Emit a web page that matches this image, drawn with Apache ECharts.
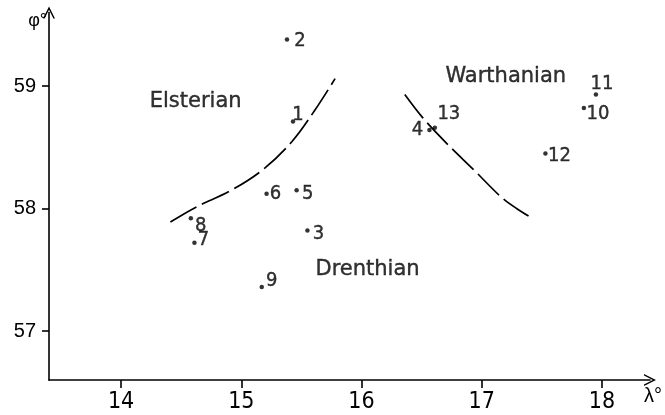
<!DOCTYPE html>
<html>
<head>
<meta charset="utf-8">
<script src="https://cdn.jsdelivr.net/npm/echarts@6/dist/echarts.min.js"></script>
<style>
  html, body { margin: 0; padding: 0; background: #fff; }
  #chart { width: 665px; height: 415px; }
</style>
</head>
<body>
<div id="chart"></div>
<script>
// Sites (longitude λ°, latitude φ°)
const siteIds = ['1', '2', '3', '4', '5', '6', '7', '8', '9', '10', '11', '12', '13'];
const siteLon = [15.43, 15.38, 15.55, 16.565, 15.46, 15.21, 14.61, 14.58, 15.17, 17.85, 17.95, 17.53, 16.61];
const siteLat = [58.71, 59.38, 57.82, 58.64, 58.15, 58.12, 57.72, 57.92, 57.36, 58.82, 58.93, 58.45, 58.66];

// Dashed boundary lines between the glacial zones
const westBoundaryLon = [14.41, 14.63, 14.90, 15.17, 15.42, 15.61, 15.78];
const westBoundaryLat = [57.89, 58.015, 58.14, 58.31, 58.545, 58.80, 59.06];
const eastBoundaryLon = [16.36, 16.51, 16.71, 16.94, 17.155, 17.29, 17.42];
const eastBoundaryLat = [58.93, 58.74, 58.53, 58.31, 58.10, 58.00, 57.92];

// Zone names
const zoneNames = ['Elsterian', 'Warthanian', 'Drenthian'];
const zoneLon = [14.62, 17.20, 16.05];
const zoneLat = [58.87, 59.08, 57.50];

// Axis ticks
const lonTicks = [14, 15, 16, 17, 18];
const latTicks = [57, 58, 59];

// Label placement (pixel offsets from each dot)
const labelOffset = {
  '1': [5, -7], '2': [13, 1], '3': [11, 3], '4': [-12, 0], '5': [11, 4],
  '6': [9, 0], '7': [9, -3], '8': [10, 7], '9': [10, -6], '10': [14, 6],
  '11': [6, -11], '12': [14, 2], '13': [14, -14]
};

const pair = (xs, ys) => xs.map((x, i) => [x, ys[i]]);
// open arrow head, drawn pointing up (the axis rotates it)
const chevron = 'path://M0,12 L6,0 L12,12 L10.4,12 L6,3.2 L1.6,12 Z';

const sitePoints = siteIds.map((id, i) => ({
  value: [siteLon[i], siteLat[i]],
  name: id,
  label: { offset: labelOffset[id] }
}));

const zonePoints = zoneNames.map((n, i) => ({ value: [zoneLon[i], zoneLat[i]], name: n }));

const ink = '#000';
const narrowFont = 'DejaVu Sans Condensed, Liberation Sans Narrow, Liberation Sans';
const chart = echarts.init(document.getElementById('chart'), null, { renderer: 'canvas' });
chart.setOption({
  animation: false,
  backgroundColor: '#ffffff',
  grid: { left: 49, right: 11, top: 12.5, bottom: 35, containLabel: false },
  xAxis: {
    type: 'value', min: 13.4, max: 18.4,
    name: 'λ°', nameLocation: 'end', nameGap: 12,
    nameTextStyle: { fontFamily: 'Liberation Sans', fontSize: 20, color: ink, align: 'right', verticalAlign: 'top', padding: [6, 0, 0, 0] },
    axisLine: { show: true, symbol: ['none', chevron], symbolSize: [12, 12], lineStyle: { color: ink, width: 1.6 } },
    axisTick: { show: true, inside: false, length: 8, lineStyle: { color: ink, width: 1.6 }, customValues: lonTicks },
    axisLabel: { customValues: lonTicks, fontFamily: narrowFont, fontSize: 23, color: ink, margin: 11 },
    splitLine: { show: false }
  },
  yAxis: {
    type: 'value', min: 56.6, max: 59.6,
    name: 'φ°', nameLocation: 'end', nameGap: 0,
    nameTextStyle: { fontFamily: 'Liberation Sans', fontSize: 18, color: ink, align: 'right', verticalAlign: 'top', padding: [0, 2, 0, 0] },
    axisLine: { show: true, symbol: ['none', chevron], symbolSize: [12, 12], lineStyle: { color: ink, width: 1.6 } },
    axisTick: { show: true, inside: false, length: 7, lineStyle: { color: ink, width: 1.6 }, customValues: latTicks },
    axisLabel: { customValues: latTicks, fontFamily: 'Liberation Sans', fontSize: 20, color: ink, margin: 13 },
    splitLine: { show: false }
  },
  series: [
    {
      type: 'line', data: pair(westBoundaryLon, westBoundaryLat), smooth: 0.35,
      symbol: 'none', lineStyle: { color: ink, width: 1.7, type: [30, 6] }, silent: true
    },
    {
      type: 'line', data: pair(eastBoundaryLon, eastBoundaryLat), smooth: 0.35,
      symbol: 'none', lineStyle: { color: ink, width: 1.7, type: [30, 6] }, silent: true
    },
    {
      type: 'scatter', data: sitePoints, symbol: 'circle', symbolSize: 4.5,
      itemStyle: { color: ink },
      label: {
        show: true, position: 'inside', formatter: '{b}', align: 'center', verticalAlign: 'middle',
        fontFamily: narrowFont, fontSize: 20, color: ink,
        textBorderColor: ink, textBorderWidth: 0.4
      }
    },
    {
      type: 'scatter', data: zonePoints, symbolSize: 0, silent: true,
      label: {
        show: true, position: 'inside', formatter: '{b}', align: 'center', verticalAlign: 'middle',
        fontFamily: 'DejaVu Sans', fontSize: 21, color: ink,
        textBorderColor: ink, textBorderWidth: 0.4
      }
    }
  ]
});
</script>
</body>
</html>
